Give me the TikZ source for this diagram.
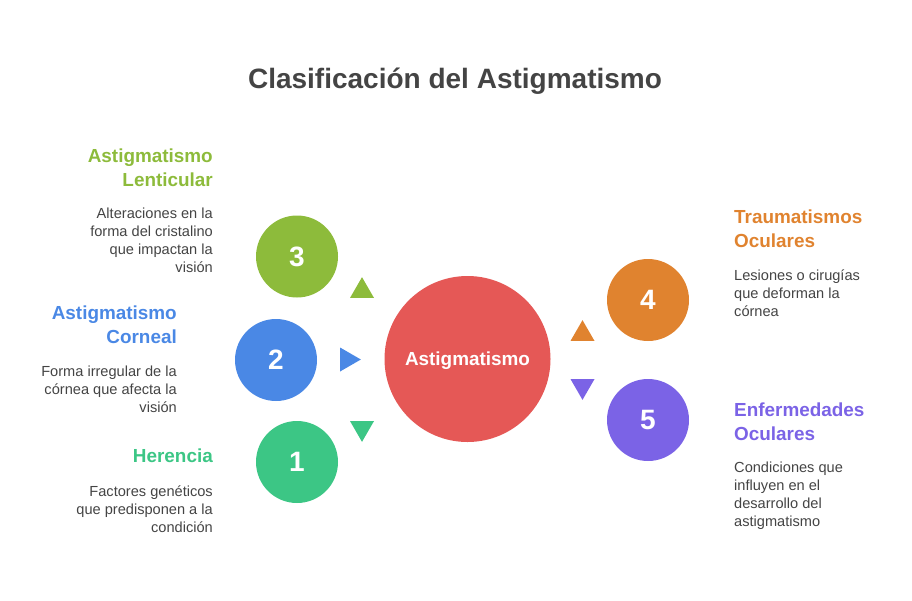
\documentclass[tikz,border=0pt]{standalone}
\usepackage{fontspec}
\setmainfont{Liberation Sans}
\usetikzlibrary{positioning,shapes.geometric}
\definecolor{txt}{HTML}{444444}
\definecolor{astigc}{HTML}{E55856}
\definecolor{lentic}{HTML}{8DBB3B}
\definecolor{cornc}{HTML}{4A88E5}
\definecolor{herc}{HTML}{3CC685}
\definecolor{traumc}{HTML}{E0832F}
\definecolor{enfc}{HTML}{7B63E6}
\begin{document}
\begin{tikzpicture}[x=1pt,y=-1pt,every node/.style={inner sep=0pt},
  num/.style={circle,minimum size=82pt,text=white,font=\fontsize{28}{28}\selectfont\bfseries},
  head/.style={align=right,font=\fontsize{18.9}{23.5}\selectfont\bfseries},
  desc/.style={align=right,text=txt,font=\fontsize{14.6}{18}\selectfont},
  tri/.style={regular polygon,regular polygon sides=3,minimum size=27.7pt}]
  \useasboundingbox (0,0) rectangle (912,600);
  \node[anchor=base,text=txt,font=\fontsize{28}{28}\selectfont\bfseries] (title) at (455,88) {Clasificación del Astigmatismo};
  % centre
  \node[circle,fill=astigc,minimum size=166pt,text=white,text depth=0pt,font=\fontsize{18.9}{18.9}\selectfont\bfseries] (astig) at (467.5,359) {Astigmatismo};
  \node[num,fill=lentic] (n3) at (297,256.5) {3};
  \node[num,fill=cornc] (n2) at (276,360) {2};
  \node[num,fill=herc] (n1) at (297,462) {1};
  \node[num,fill=traumc] (n4) at (648,300) {4};
  \node[num,fill=enfc] (n5) at (648,420) {5};
  \node[tri,fill=lentic] (t3) at (362,291) {};
  \node[tri,fill=cornc,shape border rotate=-90] (t2) at (347,359.5) {};
  \node[tri,fill=herc,shape border rotate=180] (t1) at (362,428) {};
  \node[tri,fill=traumc] (t4) at (582.5,334) {};
  \node[tri,fill=enfc,shape border rotate=180] (t5) at (582.5,386) {};
  % left texts
  \node[head,text=lentic,anchor=north east] (h3) at (213,149) {Astigmatismo\\Lenticular};
  \node[desc,below left=21pt and 0pt of h3.south east] (d3) {Alteraciones en la\\forma del cristalino\\que impactan la\\visión};
  \node[head,text=cornc,anchor=north east] (h2) at (177,306) {Astigmatismo\\Corneal};
  \node[desc,below left=22pt and 0pt of h2.south east] (d2) {Forma irregular de la\\córnea que afecta la\\visión};
  \node[head,text=herc,anchor=north east] (h1) at (213,449) {Herencia};
  \node[desc,below left=22pt and 0pt of h1.south east] (d1) {Factores genéticos\\que predisponen a la\\condición};
  % right texts
  \node[head,align=left,text=traumc,anchor=north west] (h4) at (734,210) {Traumatismos\\Oculares};
  \node[desc,align=left,below right=22pt and 0pt of h4.south west] (d4) {Lesiones o cirugías\\que deforman la\\córnea};
  \node[head,align=left,text=enfc,anchor=north west] (h5) at (734,403) {Enfermedades\\Oculares};
  \node[desc,align=left,below right=21pt and 0pt of h5.south west] (d5) {Condiciones que\\influyen en el\\desarrollo del\\astigmatismo};
\end{tikzpicture}
\end{document}
